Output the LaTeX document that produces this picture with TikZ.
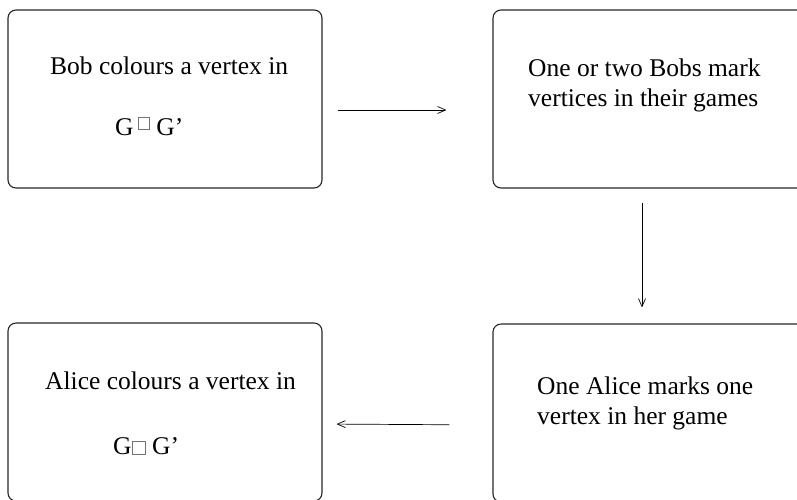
\documentclass[tikz,border=0pt]{standalone}
\usepackage{amssymb}
\usepackage{fontspec}
\setmainfont{Liberation Serif}
\usetikzlibrary{positioning,arrows.meta}

% small grey square for the product sign
\newcommand{\sqop}[2]{\raisebox{#1}{\color{black!55}\setlength{\fboxsep}{0pt}%
  \setlength{\fboxrule}{0.7pt}\fbox{\phantom{\rule{#2}{#2}}}}}

\begin{document}
\begin{tikzpicture}[x=1pt,y=-1pt,
    box/.style={draw=black!85, line width=1.1pt, rounded corners=8pt,
                minimum width=314pt, minimum height=178pt, inner sep=0pt},
    txt/.style={anchor=base west, inner sep=0pt, align=left,
                font=\fontsize{25.5}{30}\selectfont},
    flow/.style={-{Straight Barb[length=8pt,width=7pt]}, line width=0.7pt}]
  \useasboundingbox (0,0) rectangle (797,499);
  \clip (0,0) rectangle (797,499);

  \node[box] (bob)    at (165,99)  {};
  \node[box] (bobs)   at (650,99)  {};
  \node[box] (alices) at (650,413) {};
  \node[box] (alice)  at (165,412) {};

  \node[txt] (bob_t)    at (50,74)   {Bob colours a vertex in};
  \node[txt] (bob_g)    at (115,135) {G\,\sqop{0.24em}{0.42em}\ G'};
  \node[txt] (bobs_t)   at (528,106) {One or two Bobs mark\\vertices in their games};
  \node[txt] (alices_t) at (537,424) {One Alice marks one\\vertex in her game};
  \node[txt] (alice_t)  at (45,389)  {Alice colours a vertex in};
  \node[txt] (alice_g)  at (113,454) {G\sqop{0pt}{0.5em}\ G'};

  \draw[flow, shorten <=15pt, shorten >=46pt]
    ([yshift=-11pt]bob.east) -- ([yshift=-11pt]bobs.west);
  \draw[flow, shorten <=14pt, shorten >=16pt]
    ([xshift=-8pt]bobs.south) -- ([xshift=-8pt]alices.north);
  \draw[flow, shorten <=43pt, shorten >=14pt]
    ([yshift=-12pt]alices.west) -- ([yshift=-12pt]alice.east);
\end{tikzpicture}
\end{document}
